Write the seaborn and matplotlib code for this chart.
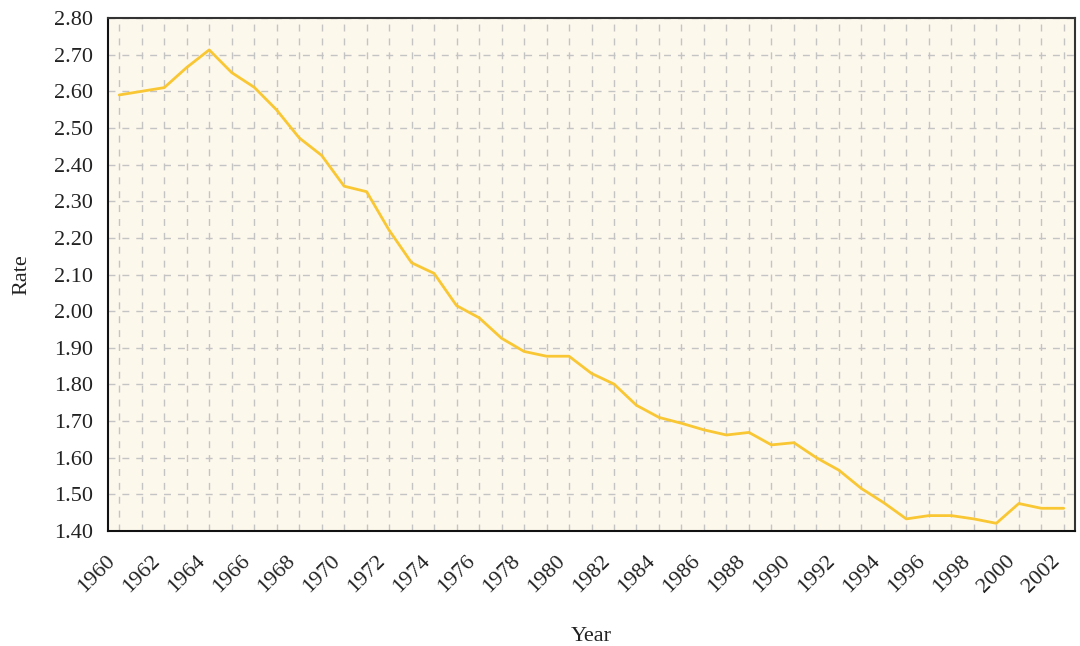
import matplotlib
matplotlib.use("Agg")
import matplotlib.pyplot as plt
import seaborn as sns
import pandas as pd

years = list(range(1960, 2003))
rate = [2.59, 2.60, 2.61, 2.665, 2.713, 2.651, 2.611, 2.549, 2.473, 2.425,
        2.341, 2.326, 2.221, 2.132, 2.103, 2.015, 1.982, 1.926, 1.890, 1.877,
        1.877, 1.830, 1.801, 1.743, 1.710, 1.694, 1.676, 1.662, 1.669, 1.635,
        1.641, 1.600, 1.566, 1.516, 1.477, 1.433, 1.442, 1.442, 1.433, 1.421,
        1.475, 1.462, 1.462]
yticks = [1.40, 1.50, 1.60, 1.70, 1.80, 1.90, 2.00, 2.10, 2.20, 2.30, 2.40,
          2.50, 2.60, 2.70, 2.80]
xtick_years = list(range(1960, 2003, 2))

df = pd.DataFrame({"Year": years, "Rate": rate})

sns.set_theme(style="white")
plt.rcParams["font.family"] = ["Liberation Serif", "DejaVu Serif"]

fig = plt.figure(figsize=(10.8, 6.46), dpi=100)
ax = fig.add_axes([108 / 1080, 1 - 531 / 646, (1075 - 108) / 1080, (531 - 18) / 646])
ax.set_facecolor("#fdf8ec")

sns.lineplot(data=df, x="Year", y="Rate", ax=ax, color="#f9c733", linewidth=2.0)

ax.set_xlim(1959.5, 2002.5)
ax.set_ylim(1.40, 2.80)
ax.set_xticks(years, minor=True)
ax.set_xticks(xtick_years)
ax.set_xticklabels([str(y) for y in xtick_years], rotation=45, ha="right",
                   fontsize=16, color="#222222")
ax.set_yticks(yticks)
ax.set_yticklabels([f"{v:.2f}" for v in yticks], fontsize=16, color="#222222")

ax.grid(True, which="both", axis="x", color="#c4c4c4", linestyle=(0, (5, 5)), linewidth=1.0)
ax.grid(True, which="major", axis="y", color="#c4c4c4", linestyle=(0, (5, 5)), linewidth=1.0)
ax.set_axisbelow(True)

ax.tick_params(axis="both", which="both", length=0)
ax.tick_params(axis="y", pad=11)
ax.tick_params(axis="x", pad=15)

for side in ["left", "bottom"]:
    ax.spines[side].set_color("#111111")
    ax.spines[side].set_linewidth(1.5)
for side in ["top", "right"]:
    ax.spines[side].set_visible(True)
    ax.spines[side].set_color("#333333")
    ax.spines[side].set_linewidth(1.5)

ax.set_xlabel("Year", fontsize=16, color="#222222", labelpad=22)
ax.set_ylabel("Rate", fontsize=16, color="#222222", labelpad=16)

fig.savefig("out.png", dpi=100)
